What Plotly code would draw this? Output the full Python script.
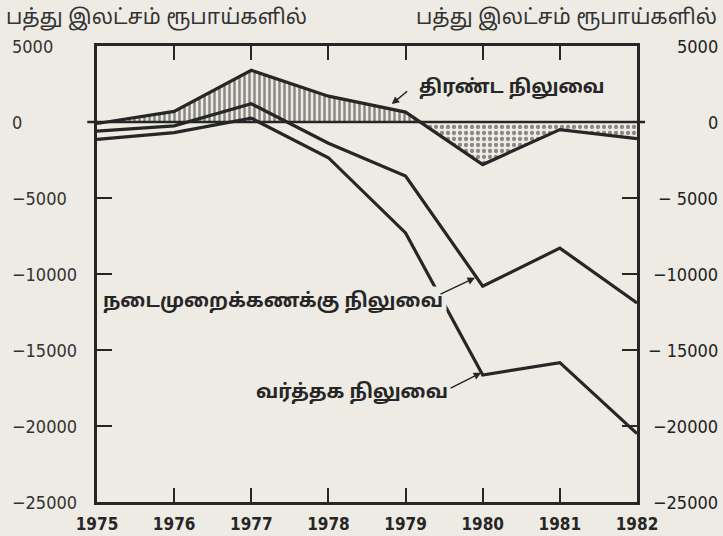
import numpy as np
import plotly.graph_objects as go

years = [1975, 1976, 1977, 1978, 1979, 1980, 1981, 1982]
overall = [-100, 700, 3400, 1700, 650, -2800, -500, -1100]
current = [-600, -250, 1200, -1400, -3550, -10800, -8300, -11900]
trade = [-1150, -700, 250, -2350, -7300, -16650, -15830, -20500]

y_ticks = [5000, 0, -5000, -10000, -15000, -20000, -25000]
left_labels = ["5000", "0", "\u22125000", "\u221210000", "\u221215000", "\u221220000", "\u221225000"]
right_labels = ["5000", "0", "\u2212 5000", "\u221210000", "\u2212 15000", "\u221220000", "\u221225000"]

unit_text = "பத்து இலட்சம் ரூபாய்களில்"
lbl_overall = "திரண்ட நிலுவை"
lbl_current = "நடைமுறைக்கணக்கு நிலுவை"
lbl_trade = "வர்த்தக நிலுவை"

BG = "#eeebe4"
INK = "#262626"
TAMIL = "Noto Sans Tamil, Lohit Tamil, Latha, Noto Sans, sans-serif"
NUM = "DejaVu Sans Condensed, DejaVu Sans, sans-serif"

# split overall balance into positive / negative parts, inserting zero crossings
xs, ys = [], []
for i in range(len(years)):
    if i > 0:
        a, b = overall[i - 1], overall[i]
        if a * b < 0:
            t = a / (a - b)
            xs.append(years[i - 1] + t * (years[i] - years[i - 1]))
            ys.append(0.0)
    xs.append(years[i])
    ys.append(overall[i])
xs = np.array(xs, dtype=float)
ys = np.array(ys, dtype=float)
pos = np.maximum(ys, 0)
neg = np.minimum(ys, 0)

fig = go.Figure()
fig.add_trace(go.Scatter(x=xs, y=pos, mode="lines", line=dict(width=0, color=INK),
                         fill="tozeroy", fillcolor=BG,
                         fillpattern=dict(shape="|", fgcolor=INK, bgcolor=BG, size=5, solidity=0.5),
                         hoverinfo="skip", showlegend=False))
fig.add_trace(go.Scatter(x=xs, y=neg, mode="lines", line=dict(width=0, color=INK),
                         fill="tozeroy", fillcolor=BG,
                         fillpattern=dict(shape=".", fgcolor=INK, bgcolor=BG, size=6, solidity=0.4),
                         hoverinfo="skip", showlegend=False))
for series in (trade, current, overall):
    fig.add_trace(go.Scatter(x=years, y=series, mode="lines",
                             line=dict(color=INK, width=3.2), showlegend=False))

fig.add_shape(type="line", xref="paper", yref="y", x0=-0.018, x1=1.015, y0=0, y1=0,
              line=dict(color=INK, width=2.5))

ann = []
for v, lt, rt in zip(y_ticks, left_labels, right_labels):
    ann.append(dict(x=0, xref="paper", y=v, yref="y", text=lt, showarrow=False,
                    xanchor="left", xshift=-87, font=dict(family=NUM, size=18, color="#333")))
    ann.append(dict(x=1, xref="paper", y=v, yref="y", text=rt, showarrow=False,
                    xanchor="right", xshift=83, font=dict(family=NUM, size=18, color="#222")))

ann.append(dict(x=0, xref="paper", y=1, yref="paper", text=unit_text, showarrow=False,
                xanchor="left", yanchor="bottom", xshift=-93, yshift=12,
                font=dict(family=TAMIL, size=21, color="#333")))
ann.append(dict(x=1, xref="paper", y=1, yref="paper", text=unit_text, showarrow=False,
                xanchor="right", yanchor="bottom", xshift=82, yshift=12,
                font=dict(family=TAMIL, size=21, color="#333")))

# labels
ann.append(dict(x=1979.15, y=2250, text="<b>" + lbl_overall + "</b>", showarrow=False,
                xanchor="left", font=dict(family=TAMIL, size=19, color=INK)))
ann.append(dict(x=1975.02, y=-11850, text="<b>" + lbl_current + "</b>", showarrow=False,
                xanchor="left", bgcolor=BG, borderpad=3, font=dict(family=TAMIL, size=19.5, color=INK)))
ann.append(dict(x=1979.57, y=-17800, text="<b>" + lbl_trade + "</b>", showarrow=False,
                xanchor="right", font=dict(family=TAMIL, size=19.5, color=INK)))
# arrows
arrow = dict(showarrow=True, arrowhead=2, arrowsize=1, arrowwidth=1.5, arrowcolor=INK, text="")
ann.append(dict(x=1978.82, y=1180, ax=17, ay=-14, **arrow))
ann.append(dict(x=1979.9, y=-10250, ax=-36, ay=17, **arrow))
ann.append(dict(x=1979.98, y=-16500, ax=-32, ay=16, **arrow))

fig.update_layout(
    width=723, height=536,
    margin=dict(l=97, r=86, t=46, b=34, autoexpand=False),
    paper_bgcolor=BG, plot_bgcolor=BG,
    annotations=ann,
    xaxis=dict(range=[1975, 1982], tickvals=years, ticktext=[str(y) for y in years],
               ticks="inside", ticklen=14, tickwidth=2, tickcolor=INK,
               showline=True, linecolor=INK, linewidth=2.5, mirror="ticks",
               showgrid=False, zeroline=False, ticklabelstandoff=5, automargin=False,
               tickfont=dict(family=NUM, size=17, color=INK, weight="bold")),
    yaxis=dict(range=[-25000, 5000], tickvals=y_ticks, showticklabels=False,
               ticks="inside", ticklen=15, tickwidth=2, tickcolor=INK,
               showline=True, linecolor=INK, linewidth=2.5, mirror="ticks",
               showgrid=False, zeroline=False, automargin=False),
)
fig.write_html("out.html", config={"displayModeBar": False},
               post_script="document.body.style.margin='0';document.body.style.background='%s';" % BG)
